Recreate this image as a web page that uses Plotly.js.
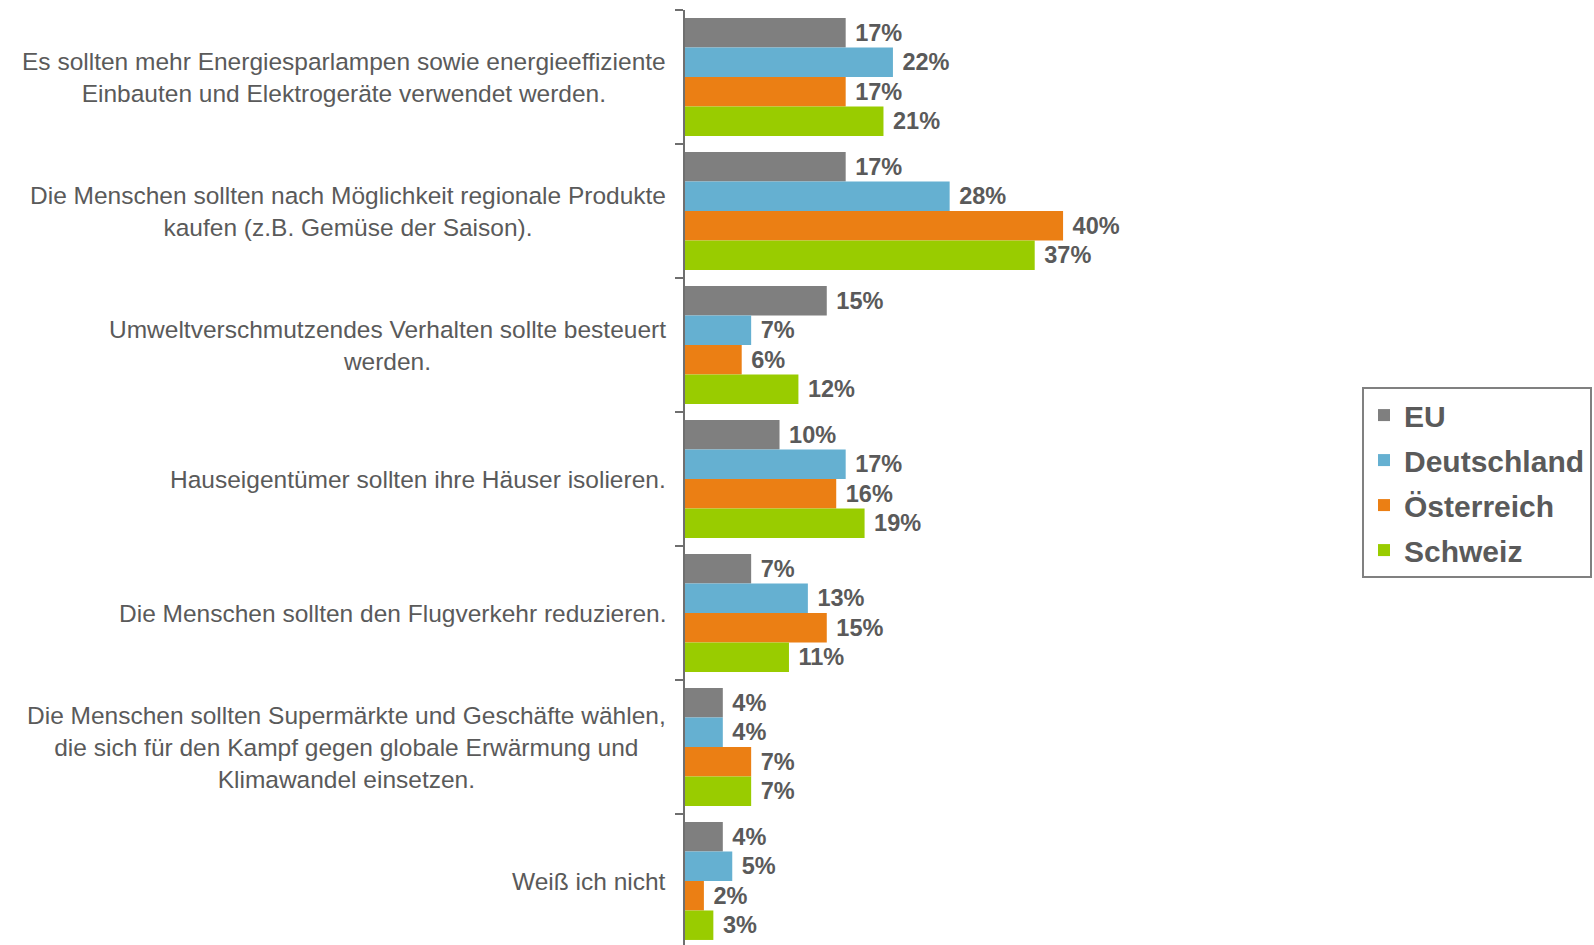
<!DOCTYPE html>
<html>
<head>
<meta charset="utf-8">
<script src="https://cdn.plot.ly/plotly-3.0.1.min.js"></script>
<style>
html,body{margin:0;padding:0;overflow:hidden;background:#fff;}
#chart{width:1594px;height:950px;}
</style>
</head>
<body>
<div id="chart"></div>
<script>
const categories = [
  "Es sollten mehr Energiesparlampen sowie energieeffiziente<br>Einbauten und Elektrogeräte verwendet werden.",
  "Die Menschen sollten nach Möglichkeit regionale Produkte<br>kaufen (z.B. Gemüse der Saison).",
  "Umweltverschmutzendes Verhalten sollte besteuert<br>werden.",
  "Hauseigentümer sollten ihre Häuser isolieren.",
  "Die Menschen sollten den Flugverkehr reduzieren.",
  "Die Menschen sollten Supermärkte und Geschäfte wählen,<br>die sich für den Kampf gegen globale Erwärmung und<br>Klimawandel einsetzen.",
  "Weiß ich nicht"
];
const seriesNames = ["EU", "Deutschland", "Österreich", "Schweiz"];
const eu          = [17, 17, 15, 10, 7, 4, 4];
const deutschland = [22, 28, 7, 17, 13, 4, 5];
const oesterreich = [17, 40, 6, 16, 15, 7, 2];
const schweiz     = [21, 37, 12, 19, 11, 7, 3];
const seriesValues = [eu, deutschland, oesterreich, schweiz];
const colors = ["#7f7f7f", "#65b0d1", "#eb7f14", "#99cc00"];

const textColor = "#5a5a5a";
const fontFam = "Liberation Sans, Arial, sans-serif";

const traces = seriesValues.map((vals, i) => ({
  type: "bar",
  orientation: "h",
  name: seriesNames[i],
  legendgroup: "g" + i,
  y: categories,
  x: vals,
  marker: {color: colors[i]},
  text: vals.map(v => "\u00a0" + v + "%"),
  texttemplate: "%{text}",
  textposition: "outside",
  constraintext: "none",
  cliponaxis: false,
  textfont: {family: fontFam, size: 23.5, color: textColor, weight: "bold"},
  hoverinfo: "skip"
}));

const annotations = categories.map(c => ({
  xref: "paper", yref: "y",
  x: -0.026, y: c,
  xanchor: "right", yanchor: "middle",
  align: "center",
  showarrow: false,
  text: c,
  font: {family: fontFam, size: 24.5, color: textColor}
}));

const layout = {
  width: 1594,
  height: 950,
  margin: {l: 685, r: 254, t: 10, b: 2, pad: 0, autoexpand: false},
  paper_bgcolor: "#ffffff",
  plot_bgcolor: "#ffffff",
  barmode: "group",
  bargap: 0.12,
  bargroupgap: 0,
  showlegend: true,
  legend: {
    x: 1.0336, y: 0.598, xanchor: "left", yanchor: "top",
    font: {family: fontFam, size: 30, color: textColor, weight: "bold"},
    bordercolor: "#808080", borderwidth: 2,
    traceorder: "grouped", tracegroupgap: 3,
    bgcolor: "#ffffff"
  },
  xaxis: {
    range: [0, 69.3],
    showgrid: false, zeroline: false, showline: false,
    showticklabels: false, ticks: "", fixedrange: true
  },
  yaxis: {
    type: "category",
    autorange: "reversed",
    showgrid: false, zeroline: false,
    showline: true, linecolor: "#6f6f6f", linewidth: 2,
    ticks: "outside", tickson: "boundaries", ticklen: 8, tickwidth: 2, tickcolor: "#6f6f6f",
    showticklabels: false, fixedrange: true
  },
  annotations: annotations
};

Plotly.newPlot("chart", traces, layout, {displayModeBar: false, staticPlot: true});
</script>
</body>
</html>
